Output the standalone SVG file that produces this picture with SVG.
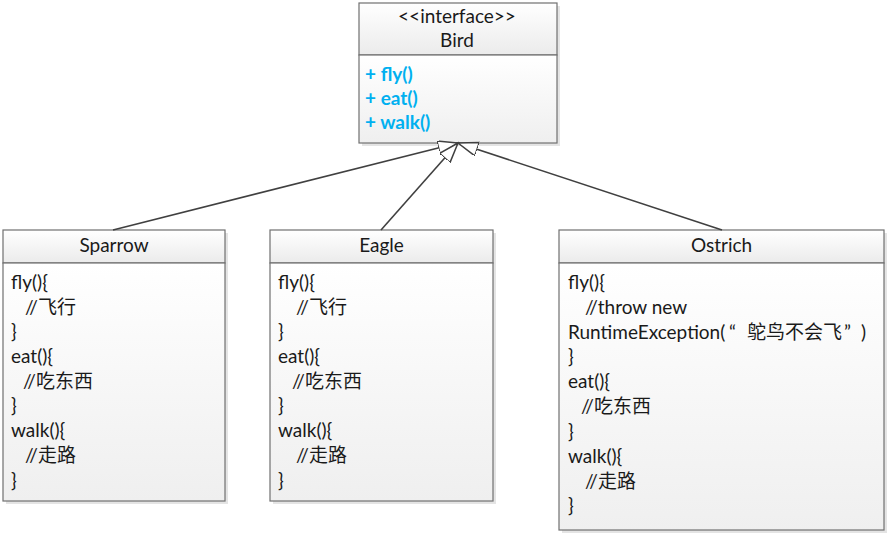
<svg xmlns="http://www.w3.org/2000/svg" width="891" height="536" viewBox="0 0 891 536">
  <defs>
    <linearGradient id="gHead" x1="0" y1="0" x2="0" y2="1">
      <stop offset="0" stop-color="#ffffff"/>
      <stop offset="1" stop-color="#ebebeb"/>
    </linearGradient>
    <linearGradient id="gBody" x1="0" y1="0" x2="0" y2="1">
      <stop offset="0" stop-color="#ffffff"/>
      <stop offset="1" stop-color="#efefef"/>
    </linearGradient>
    <marker id="tri" markerUnits="userSpaceOnUse" markerWidth="22" markerHeight="16" refX="20" refY="7" orient="auto">
      <path d="M0,0 L20,7 L0,14 Z" fill="#ffffff" stroke="#404040" stroke-width="1.5" stroke-linejoin="miter"/>
    </marker>
  </defs>
  <style>
    .shadow { fill: #e4e4e4; }
    .head { fill: url(#gHead); stroke: #707070; stroke-width: 1.2; }
    .body { fill: url(#gBody); stroke: #707070; stroke-width: 1.2; }
    text { font-family: Lato, "Noto Sans CJK SC", sans-serif; font-size: 19px; fill: #1a1a1a; }
    .c { text-anchor: middle; }
    .m { font-weight: bold; fill: #00b0f0; }
    .edge { stroke: #404040; stroke-width: 1.6; fill: none; marker-end: url(#tri); }
  </style>
  <rect width="891" height="536" fill="#ffffff"/>

  <g id="Bird">
    <rect class="shadow" x="362" y="6" width="198" height="140"/>
    <rect class="head" x="359" y="3" width="198" height="52"/>
    <rect class="body" x="359" y="55" width="198" height="88"/>
    <text class="c" x="457" y="23">&lt;&lt;interface&gt;&gt;</text>
    <text class="c" x="457" y="47">Bird</text>
    <text class="m" x="365" y="81">+ fly()</text>
    <text class="m" x="365" y="105">+ eat()</text>
    <text class="m" x="365" y="129">+ walk()</text>
  </g>

  <g id="Sparrow">
    <rect class="shadow" x="6" y="233" width="222" height="271"/>
    <rect class="head" x="3" y="230" width="222" height="33"/>
    <rect class="body" x="3" y="263" width="222" height="238"/>
    <text class="c" x="114" y="252">Sparrow</text>
    <text x="11" y="289">fly(){</text>
    <text x="25" y="314">//飞行</text>
    <text x="11" y="338">}</text>
    <text x="11" y="363">eat(){</text>
    <text x="23" y="388">//吃东西</text>
    <text x="11" y="412">}</text>
    <text x="11" y="437">walk(){</text>
    <text x="25" y="462">//走路</text>
    <text x="11" y="487">}</text>
  </g>

  <g id="Eagle">
    <rect class="shadow" x="273" y="233" width="223" height="271"/>
    <rect class="head" x="270" y="230" width="223" height="33"/>
    <rect class="body" x="270" y="263" width="223" height="238"/>
    <text class="c" x="381.5" y="252">Eagle</text>
    <text x="278" y="289">fly(){</text>
    <text x="296" y="314">//飞行</text>
    <text x="278" y="338">}</text>
    <text x="278" y="363">eat(){</text>
    <text x="292" y="388">//吃东西</text>
    <text x="278" y="412">}</text>
    <text x="278" y="437">walk(){</text>
    <text x="296" y="462">//走路</text>
    <text x="278" y="487">}</text>
  </g>

  <g id="Ostrich">
    <rect class="shadow" x="562" y="233" width="325" height="300"/>
    <rect class="head" x="559" y="230" width="325" height="33"/>
    <rect class="body" x="559" y="263" width="325" height="267"/>
    <text class="c" x="721.5" y="252">Ostrich</text>
    <text x="568" y="289">fly(){</text>
    <text x="585" y="314">//throw new</text>
    <text x="568" y="339">RuntimeException(<tspan x="729">“</tspan><tspan x="747">鸵鸟不会飞</tspan><tspan x="844">”</tspan><tspan x="861">)</tspan></text>
    <text x="568" y="363">}</text>
    <text x="568" y="388">eat(){</text>
    <text x="581" y="413">//吃东西</text>
    <text x="568" y="438">}</text>
    <text x="568" y="463">walk(){</text>
    <text x="585" y="488">//走路</text>
    <text x="568" y="512">}</text>
  </g>

  <g id="connectors">
    <line class="edge" x1="113" y1="230" x2="458" y2="143"/>
    <line class="edge" x1="381" y1="230" x2="458" y2="143"/>
    <line class="edge" x1="722" y1="230" x2="458" y2="143"/>
  </g>
</svg>
